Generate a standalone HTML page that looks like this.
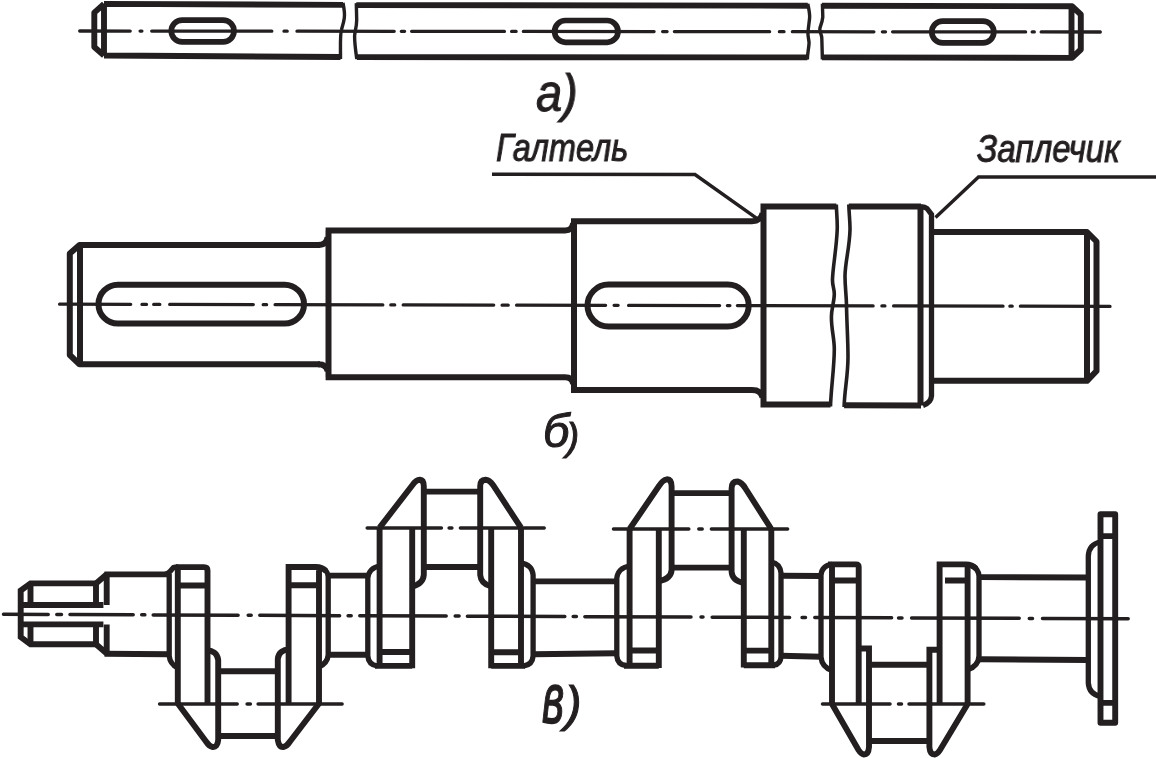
<!DOCTYPE html>
<html lang="ru">
<head>
<meta charset="utf-8">
<title>Валы: гладкий, ступенчатый, коленчатый</title>
<style>
html,body{margin:0;padding:0;background:#fff;}
body{width:1156px;height:758px;position:relative;overflow:hidden;font-family:"Liberation Sans",sans-serif;}
svg{position:absolute;left:0;top:0;display:block;filter:blur(0.5px);}
svg path, svg rect{fill:none;stroke:#231f20;}
.g{display:inline-block;}
.w{-webkit-text-stroke:0.95px #231f20;}
.lbl{-webkit-text-stroke:1px #231f20;will-change:transform;position:absolute;color:#231f20;font-style:italic;white-space:nowrap;line-height:1;transform-origin:0 0;margin:0;}
</style>
</head>
<body>
<svg width="1156" height="758" viewBox="0 0 1156 758">
<path d="M104,3.9 L343,4.9 M104,55.5 L340.5,57.0 M104,3.9 L94.3,12.6 L94.3,47 L104,55.5 M104,3.9 L104,55.5" stroke-width="5.9" stroke-linejoin="round"/>
<path d="M343,2.9 C344,8 345,14 344.3,18 C343.5,24 342,27 341.5,30 C340,34 340.5,44 340.5,59.0" stroke-width="3.4" />
<path d="M356.3,5.1 L807.8,5.7 M356.8,57.1 L807.4,57.4" stroke-width="5.9" />
<path d="M356.3,3.1 L356.7,20 C356.5,28 355,30 354.6,36 C354.5,42 355.5,50 356.8,59.1" stroke-width="3.4" />
<path d="M807.8,3.7 C809,10 810,14 809.6,18 C809,24 808.3,28 808,32 C807.5,38 809.5,40 809,44 C808.5,50 807.4,54 807.4,59.4" stroke-width="3.4" />
<path d="M822,5.7 L1072,6.2 L1080.8,14.5 L1080.8,49.5 L1072,57.9 L822,57.4 M1071.5,6.2 L1071.5,57.9" stroke-width="5.9" stroke-linejoin="round"/>
<path d="M822.4,3.7 L822.8,17 C822,24 820,26 819.8,29 C819.8,33 821.6,34 821.8,38 L822.4,59.4" stroke-width="3.4" />
<rect x="171.3" y="20.1" width="62.69999999999999" height="21.8" rx="10.9" ry="10.9" stroke-width="5.7"/>
<rect x="554.6" y="20.5" width="63.39999999999998" height="21.8" rx="10.9" ry="10.9" stroke-width="5.7"/>
<rect x="931.8" y="21.1" width="62.0" height="21.8" rx="10.9" ry="10.9" stroke-width="5.7"/>
<path d="M79.7,31.00L130.2,31.05M140.1,31.06L141.9,31.06M151.7,31.07L271.8,31.19M284.0,31.20L287.2,31.20M297.0,31.21L394.2,31.31M401.3,31.32L404.6,31.32M411.6,31.33L504.4,31.42M511.6,31.42L516.1,31.43M523.4,31.43L654.1,31.56M662.6,31.57L667.1,31.58M674.4,31.58L769.6,31.68M779.4,31.69L784.0,31.69M792.4,31.70L873.9,31.78M882.4,31.79L885.5,31.79M892.6,31.80L1025.6,31.93M1032.2,31.93L1034.3,31.93M1041.2,31.94L1100.3,32.00" stroke-width="3.3" stroke-linecap="round"/>
<path d="M320,245 L79.5,245 L69.8,253.5 L69.8,355 L79.5,364.3 L320,364.3 M80,245 L80,364.3" stroke-width="6" stroke-linejoin="round"/>
<path d="M318,245 Q326.8,245 327.6,237 M318,364.3 Q326.8,364.3 327.6,371.5" stroke-width="6" />
<path d="M328.5,230.5 L328.5,377.2 M325.6,230.5 L565,230.5 Q572.3,230.5 573.2,223 M325.6,377.2 L565,377.2 Q572.3,377.2 573.2,384" stroke-width="6" />
<path d="M574,221.2 L574,390 M571,221.2 L752,221.2 Q761,221.2 762.6,213 M571,390 L752,390 Q761,390 762.6,397.5" stroke-width="6" />
<path d="M763.5,206.4 L763.5,404.5 M760.5,206.4 L836.3,206.6 M760.5,404.5 L830.5,404.6" stroke-width="6" />
<path d="M836.3,204.5 C836.6,214 837.6,222 837.2,230 C836.5,248 833,266 832.5,279 C832.2,286 834.3,288 834.3,294 C834.3,302 831.4,308 831.4,317 C831.4,330 834.3,338 834.3,349 C834.3,368 831,388 830.5,406.5" stroke-width="3.6" />
<path d="M848.8,204.5 C849,214 850.2,222 850,230 C849.5,248 845.2,262 845,276 C845,288 846.3,294 846.5,305 C846.8,324 848,340 848,357 C848,376 844.5,390 844.1,407" stroke-width="3.6" />
<path d="M848.8,206.6 L921,206.6 M844.1,405.2 L921,405.6 M920.5,206.6 L920.5,405.6" stroke-width="6" />
<path d="M921,206.6 Q925,206.8 927,208.5 L931.5,214.5 L931.5,396 Q931,402.5 923,405.4" stroke-width="5.3" />
<path d="M931.5,232 L1087,232 L1096.5,241.5 L1096.5,371 L1087,380.8 L931.5,380.8 M1087,232 L1087,380.8" stroke-width="6" stroke-linejoin="round"/>
<rect x="98.5" y="284.8" width="205.5" height="38.7" rx="19.35" stroke-width="6"/>
<rect x="587.5" y="284.6" width="161.2" height="42" rx="21" stroke-width="6"/>
<path d="M59.6,304.20L130.7,304.35M142.0,304.38L146.5,304.38M153.7,304.40L159.8,304.41M169.7,304.43L253.3,304.61M263.2,304.63L266.6,304.64M275.1,304.65L382.8,304.88M390.8,304.89L394.7,304.90M403.2,304.92L493.7,305.11M502.1,305.13L508.2,305.14M516.6,305.16L605.6,305.34M614.1,305.36L618.1,305.37M628.6,305.39L719.6,305.58M727.4,305.60L729.9,305.60M737.4,305.62L873.1,305.90M881.9,305.92L884.9,305.93M893.6,305.94L1003.0,306.17M1009.9,306.19L1012.2,306.19M1020.4,306.21L1110.0,306.40" stroke-width="3.3" stroke-linecap="round"/>
<path d="M492,174.3 L695,174.5 L757.5,218.8" stroke-width="3.4" stroke-linejoin="miter"/>
<path d="M1156,177 L978.5,177 L935.5,217.5" stroke-width="3.4" stroke-linejoin="miter"/>
<path d="M96,583.4 L30.5,583.4 L20.7,590.5 L20.7,637 L30.5,644.3 L96,644.3" stroke-width="5.9" />
<path d="M30.5,583.4 L30.5,605 M30.5,624.4 L30.5,644.3 M96,583.4 L96,605 M96,624.4 L96,644.3" stroke-width="5.9" />
<path d="M20.7,605 L103.4,605 M20.7,624.4 L103.4,624.4" stroke-width="5.9" />
<path d="M96,583.4 L106.7,574.2 M96,644.3 L106.7,653.6 M106.7,574.2 L106.7,605 M106.7,624.4 L106.7,653.6" stroke-width="5.9" />
<path d="M104.5,574.4 L167,574.4 M104.5,653.8 L169.2,654.2" stroke-width="5.9" />
<path d="M165,574.4 Q168,574 170,571.5 L173.5,567.5 Q175,567 178,567 M169.2,574 L169.2,656 Q170,664 177.8,668" stroke-width="5.3" />
<path d="M176,567.1 L204,567.1 Q207.5,567.1 207.5,570.5 L207.5,703.5 M177.8,567 L177.8,703.5 M177.8,585.5 L207.5,585.5" stroke-width="5.9" />
<path d="M207.5,650.2 C212,650.5 217.5,653 218.2,660 L218.2,740 Q217.5,747.5 212.5,747 Q209,746 206,741.5 L177.8,703.5" stroke-width="5.9" />
<path d="M218.2,671.2 L277.8,671.2 M218.2,736 L277.8,736" stroke-width="5.9" />
<path d="M288.6,649.5 C284,649.8 278.3,652 277.8,659 L277.8,740 Q279,747.5 283.5,747 Q287,746 290,741.5 L319,703.5" stroke-width="5.9" />
<path d="M288.6,703.5 L288.6,567 L316,567 Q322,567 326,571 M319,567 L319,703.5 M288.6,585.2 L319,585.2" stroke-width="5.9" />
<path d="M324,569 Q328,572 328.2,577 L328.2,655 Q327.5,663 319,667" stroke-width="5.3" />
<path d="M328.2,575.6 L367.8,575.6 M328.2,654.8 L367.8,654.8" stroke-width="5.9" />
<path d="M159.6,704.00L237.2,704.00M247.1,704.00L250.4,704.00M258.1,704.00L342.1,704.00" stroke-width="3.5" stroke-linecap="round"/>
<path d="M379.6,566 Q369,568 367.8,578 L367.8,656 Q368.5,664.5 377,665.9" stroke-width="5.3" />
<path d="M379.6,527.6 L379.6,665.9 M412.2,527.6 L412.2,668.2 M375,665.9 L412.2,665.9 M379.6,652 L412.2,652" stroke-width="5.9" />
<path d="M379.6,527.6 L412.5,485 Q416,480 419.8,479.8 Q423.8,480.2 423.8,486 L423.8,575 Q423,584 412.2,586.5" stroke-width="5.9" />
<path d="M423.8,491.6 L480.2,491.6 M423.8,567 L480.2,567" stroke-width="5.9" />
<path d="M521,527.6 L493,485 Q489.5,480 485.5,479.8 Q480.2,480.2 480.2,486 L480.2,575 Q481,584 491.2,586.5" stroke-width="5.9" />
<path d="M491.2,527.6 L491.2,668.2 M521,527.6 L521,665.9 M491.2,665.9 L525,665.9 M491.2,652.3 L521,652.3" stroke-width="5.9" />
<path d="M521,562.8 Q532,564.5 533.1,575 L533.1,656 Q532.5,664.5 524,665.9" stroke-width="5.3" />
<path d="M533.1,581.4 L616.5,581.4 M533.1,654.2 L616.5,653.2" stroke-width="5.9" />
<path d="M367.2,528.10L441.4,528.10M449.1,528.10L451.9,528.10M460.4,528.10L544.2,528.10" stroke-width="3.5" stroke-linecap="round"/>
<path d="M629.6,566 Q618,568 616.8,578 L616.8,656 Q617.5,664.5 626,665.7" stroke-width="5.3" />
<path d="M629.6,529 L629.6,665.7 M658.8,529 L658.8,668 M624,665.7 L658.8,665.7 M629.6,650.5 L658.8,650.5" stroke-width="5.9" />
<path d="M629.6,529 L659,486 Q662.5,480 667,479.3 Q671.6,479.7 671.6,486.5 L671.6,570 Q671,579 658.8,581" stroke-width="5.9" />
<path d="M671.6,493.1 L731.6,493.1 M671.6,567.6 L731.6,567.6" stroke-width="5.9" />
<path d="M771.3,529 L745.5,488.5 Q742,482.5 737.5,481.5 Q731.6,481.5 731.6,488.5 L731.6,572 Q732.5,581 743.8,583" stroke-width="5.9" />
<path d="M743.8,529 L743.8,667.5 M771.3,529 L771.3,665.2 M743.8,665.2 L775,665.2 M743.8,650.6 L771.3,650.6" stroke-width="5.9" />
<path d="M771.3,562 Q780,563.5 781,573 L781,657 Q780.5,664 774,665.2" stroke-width="5.3" />
<path d="M781,575.8 L821,576 M781,655.8 L821,656.7" stroke-width="5.9" />
<path d="M613.5,529.10L688.8,529.10M698.8,529.10L702.2,529.10M711.4,529.10L787.6,529.10" stroke-width="3.5" stroke-linecap="round"/>
<path d="M832,564.4 Q822,565.5 821,575 L821,657 Q821.8,667 832,670.5" stroke-width="5.3" />
<path d="M828,564.4 L856,564.4 Q858.7,564.4 858.7,567 L858.7,704 M832,564.4 L832,704 M832,580.5 L858.7,580.5" stroke-width="5.9" />
<path d="M858.7,648.5 L869,648.5 L869,747 Q868.5,754.5 864,754.5 Q861,754 858.5,750 L832,704" stroke-width="5.9" />
<path d="M869,664.7 L929.4,664.7 M869,741 L929.4,741" stroke-width="5.9" />
<path d="M939.6,649.8 L929.4,649.8 L929.4,747 Q930,754.5 934.5,754.5 Q937.5,754 940,750 L967.6,704" stroke-width="5.9" />
<path d="M939.6,704 L939.6,564.4 L966,564.4 Q972,564.4 976,568.5 M967.6,564.4 L967.6,704 M945,580.5 L967.6,580.5" stroke-width="5.9" />
<path d="M972,566 Q978.5,569 979,576 L979,656 Q978.5,666 967.6,669.8" stroke-width="5.3" />
<path d="M822.5,704.00L890.0,704.00M898.5,704.00L901.5,704.00M909.0,704.00L983.8,704.00" stroke-width="3.5" stroke-linecap="round"/>
<path d="M979,577.1 L1088.3,577.5 M979,659.3 L1088.3,660" stroke-width="5.9" />
<path d="M1100.5,542 Q1089,544 1088.3,556 L1088.3,683 Q1089,694 1100.5,696.5" stroke-width="5.3" />
<path d="M1100.5,514.2 L1115.2,514.2 L1115.2,722.7 L1100.5,722.7 Z M1100.5,536.1 L1115.2,536.1 M1100.5,702.9 L1115.2,702.9" stroke-width="5.9" stroke-linejoin="round"/>
<path d="M3.5,614.31L48.2,614.49M56.8,614.52L61.5,614.54M70.0,614.57L133.2,614.82M141.7,614.86L144.8,614.87M153.2,614.91L238.1,615.24M248.2,615.28L251.2,615.30M259.8,615.33L339.6,615.65M348.1,615.68L351.2,615.69M359.8,615.73L446.2,616.07M455.2,616.11L459.1,616.12M467.4,616.16L564.8,616.55M573.2,616.58L576.4,616.59M584.9,616.63L691.0,617.05M701.0,617.09L703.0,617.10M712.2,617.13L789.6,617.44M802.1,617.49L805.5,617.51M814.8,617.54L891.6,617.85M898.6,617.88L902.0,617.89M911.6,617.93L1019.2,618.36M1029.3,618.40L1032.5,618.41M1042.5,618.45L1128.2,618.79" stroke-width="3.5" stroke-linecap="round"/>
</svg>
<p class="lbl" id="la" style="left:536px;top:68px;font-size:51px;transform:scale(0.92,1);">а)</p>
<p class="lbl w" id="lg" style="left:496px;top:128px;font-size:39px;transform:scale(0.835,1);">Галтель</p>
<p class="lbl w" id="lz" style="left:977px;top:128.5px;font-size:39px;transform:scale(0.848,1);">Заплечик</p>
<p class="lbl" id="lb" style="left:543px;top:407px;font-size:47px;transform:scale(1,1);">б<span style="font-size:38px;position:relative;top:3px;left:-3px;">)</span></p>
<p class="lbl" id="lv" style="left:542px;top:680px;font-size:50px;"><span class="g" style="transform:scale(0.85,1.44);transform-origin:0 78%;">в</span><span class="g" style="margin-left:-3px;position:relative;top:-1.5px;">)</span></p>
</body>
</html>
